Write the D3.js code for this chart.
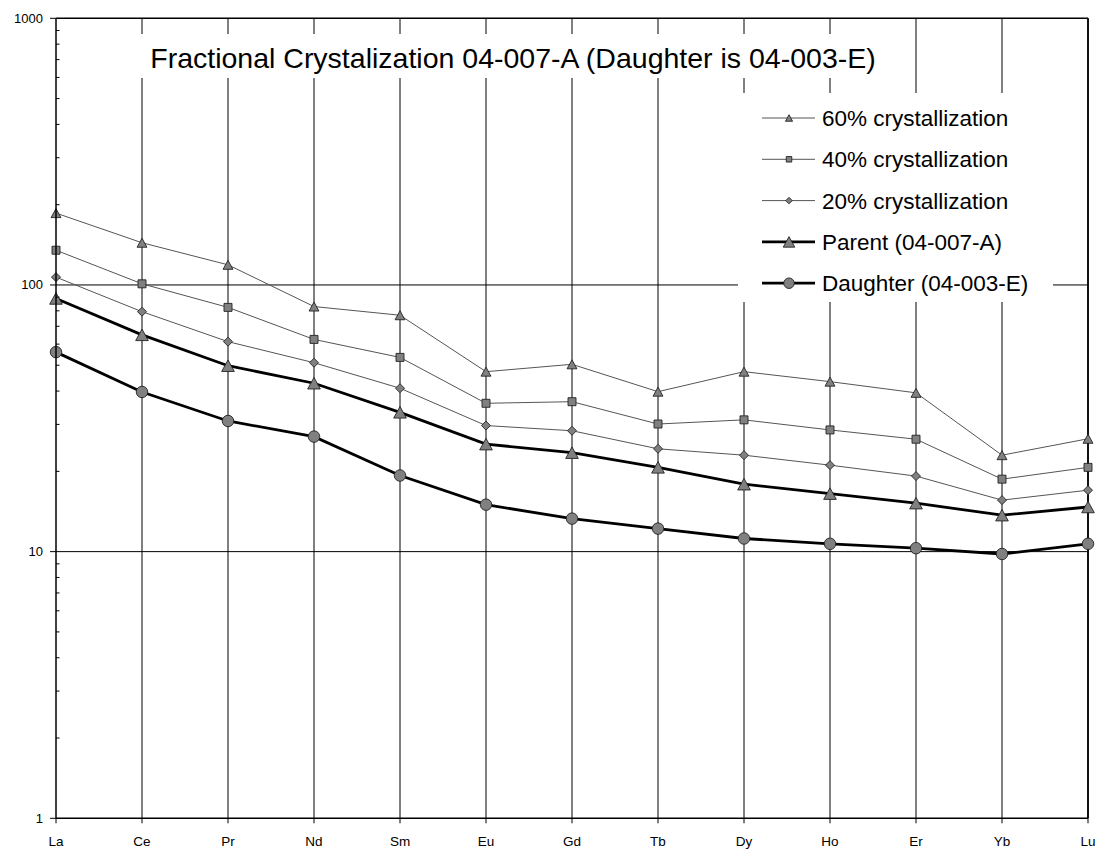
<!DOCTYPE html>
<html>
<head>
<meta charset="utf-8">
<script src="https://cdn.jsdelivr.net/npm/d3@7"></script>
<style>
  html, body { margin: 0; padding: 0; background: #fff; }
  svg { display: block; font-family: "Liberation Sans", Arial, sans-serif; }
</style>
</head>
<body>
<svg id="chart" width="1098" height="850"></svg>
<script>
// Rare earth elements along the x axis
const categories = ["La","Ce","Pr","Nd","Sm","Eu","Gd","Tb","Dy","Ho","Er","Yb","Lu"];

// Chondrite-normalised concentrations
const cryst60 = [186, 144, 119, 83, 77, 47.3, 50.4, 39.8, 47.3, 43.4, 39.4, 23.0, 26.5];
const cryst40 = [135, 101, 82.4, 62.5, 53.5, 36.0, 36.5, 30.1, 31.2, 28.6, 26.4, 18.7, 20.7];
const cryst20 = [107, 79.4, 61.3, 51.1, 41.0, 29.7, 28.4, 24.3, 23.0, 21.1, 19.2, 15.6, 17.0];
const parent  = [89, 65, 49.8, 42.8, 33.3, 25.3, 23.5, 20.7, 17.9, 16.5, 15.2, 13.7, 14.7];
const daughter = [56, 39.7, 30.9, 27.0, 19.3, 15.0, 13.3, 12.2, 11.2, 10.7, 10.3, 9.8, 10.7];

const seriesNames = ["60% crystallization","40% crystallization","20% crystallization","Parent (04-007-A)","Daughter (04-003-E)"];
const yTicks = [1, 10, 100, 1000];
const yGridValues = [10, 100, 1000];
const titleText = "Fractional Crystalization 04-007-A (Daughter is 04-003-E)";

const svg = d3.select("#chart");
const plotLeft = 56, plotRight = 1088, plotTop = 18.3, plotBottom = 818.3;

const x = d3.scalePoint().domain(categories).range([plotLeft, plotRight]);
const y = d3.scaleLog().domain([1, 1000]).range([plotBottom, plotTop]);

// Marker shapes, centred on their bounding box
const shapes = {
  triangle: s => `M0,${-s/2}L${s*0.55},${s/2}L${-s*0.55},${s/2}Z`,
  square: s => `M${-s/2},${-s/2}h${s}v${s}h${-s}Z`,
  diamond: s => `M0,${-s/2}L${s/2},0L0,${s/2}L${-s/2},0Z`,
  circle: s => d3.symbol(d3.symbolCircle, Math.PI * (s/2) * (s/2))()
};

const series = [
  { name: seriesNames[0], values: cryst60, shape: "triangle", size: 9, thick: false },
  { name: seriesNames[1], values: cryst40, shape: "square", size: 8, thick: false },
  { name: seriesNames[2], values: cryst20, shape: "diamond", size: 9, thick: false },
  { name: seriesNames[3], values: parent, shape: "triangle", size: 11.5, thick: true },
  { name: seriesNames[4], values: daughter, shape: "circle", size: 11.5, thick: true }
];

// Gridlines
const grid = svg.append("g");
grid.selectAll("line.v").data(categories.slice(1)).join("line")
  .attr("x1", d => x(d)).attr("x2", d => x(d))
  .attr("y1", plotTop).attr("y2", plotBottom)
  .attr("stroke", "#000").attr("stroke-width", 1);
grid.selectAll("line.h").data(yGridValues).join("line")
  .attr("x1", plotLeft).attr("x2", plotRight)
  .attr("y1", d => y(d)).attr("y2", d => y(d))
  .attr("stroke", "#000").attr("stroke-width", d => d === 1000 ? 1.5 : 1);

// Right frame edge
svg.append("line").attr("x1", plotRight).attr("x2", plotRight).attr("y1", plotTop).attr("y2", plotBottom)
  .attr("stroke", "#111").attr("stroke-width", 2);

// Title panel
svg.append("rect").attr("x", 120).attr("y", 34).attr("width", 780).attr("height", 44).attr("fill", "#fff");
svg.append("text").attr("x", 513).attr("y", 68).attr("text-anchor", "middle")
  .attr("font-size", 28.5).attr("fill", "#000").text(titleText);

// Series lines and markers
const line = d3.line().x((d, i) => x(categories[i])).y(d => y(d));
series.forEach(s => {
  svg.append("path").datum(s.values).attr("d", line).attr("fill", "none")
    .attr("stroke", s.thick ? "#000" : "#555").attr("stroke-width", s.thick ? 2.8 : 1);
});
series.forEach(s => {
  svg.append("g").selectAll("path").data(s.values).join("path")
    .attr("transform", (d, i) => `translate(${x(categories[i])},${y(d)})`)
    .attr("d", shapes[s.shape](s.size))
    .attr("fill", "#808080").attr("stroke", "#222").attr("stroke-width", 0.9);
});

// Y axis
const yAxisG = svg.append("g");
yAxisG.append("line").attr("x1", plotLeft).attr("x2", plotLeft).attr("y1", plotTop).attr("y2", plotBottom)
  .attr("stroke", "#000").attr("stroke-width", 1.5);
yAxisG.selectAll("line.major").data(yTicks).join("line")
  .attr("x1", plotLeft - 6).attr("x2", plotLeft).attr("y1", d => y(d)).attr("y2", d => y(d))
  .attr("stroke", "#000").attr("stroke-width", 1);
const minor = [];
for (let dec = 1; dec < 1000; dec *= 10) for (let k = 2; k <= 9; k++) minor.push(dec * k);
yAxisG.selectAll("line.minor").data(minor).join("line")
  .attr("x1", plotLeft).attr("x2", plotLeft + 3.5).attr("y1", d => y(d)).attr("y2", d => y(d))
  .attr("stroke", "#000").attr("stroke-width", 1);
yAxisG.selectAll("text").data(yTicks).join("text")
  .attr("x", 43).attr("y", d => y(d) + 4.5).attr("text-anchor", "end")
  .attr("font-size", 13).attr("fill", "#000").text(d => d);

// X axis
const xAxisG = svg.append("g");
xAxisG.append("line").attr("x1", plotLeft).attr("x2", plotRight).attr("y1", plotBottom).attr("y2", plotBottom)
  .attr("stroke", "#000").attr("stroke-width", 1.5);
xAxisG.selectAll("line.t").data(categories).join("line")
  .attr("x1", d => x(d)).attr("x2", d => x(d)).attr("y1", plotBottom).attr("y2", plotBottom + 5)
  .attr("stroke", "#000").attr("stroke-width", 1);
xAxisG.selectAll("text").data(categories).join("text")
  .attr("x", d => x(d)).attr("y", 846).attr("text-anchor", "middle")
  .attr("font-size", 13.5).attr("fill", "#000").text(d => d);

// Legend
const legend = svg.append("g");
legend.append("rect").attr("x", 738).attr("y", 93).attr("width", 315).attr("height", 209).attr("fill", "#fff");
series.forEach((s, i) => {
  const ly = 118 + i * 41.3;
  legend.append("line").attr("x1", 762).attr("x2", 815).attr("y1", ly).attr("y2", ly)
    .attr("stroke", s.thick ? "#000" : "#555").attr("stroke-width", s.thick ? 2.8 : 1);
  legend.append("path").attr("transform", `translate(789,${ly})`)
    .attr("d", shapes[s.shape](s.thick ? s.size - 1 : s.size - 2.5))
    .attr("fill", "#808080").attr("stroke", "#222").attr("stroke-width", 0.9);
  legend.append("text").attr("x", 822).attr("y", ly + 8).attr("font-size", 22.5)
    .attr("fill", "#000").text(s.name);
});
</script>
</body>
</html>
